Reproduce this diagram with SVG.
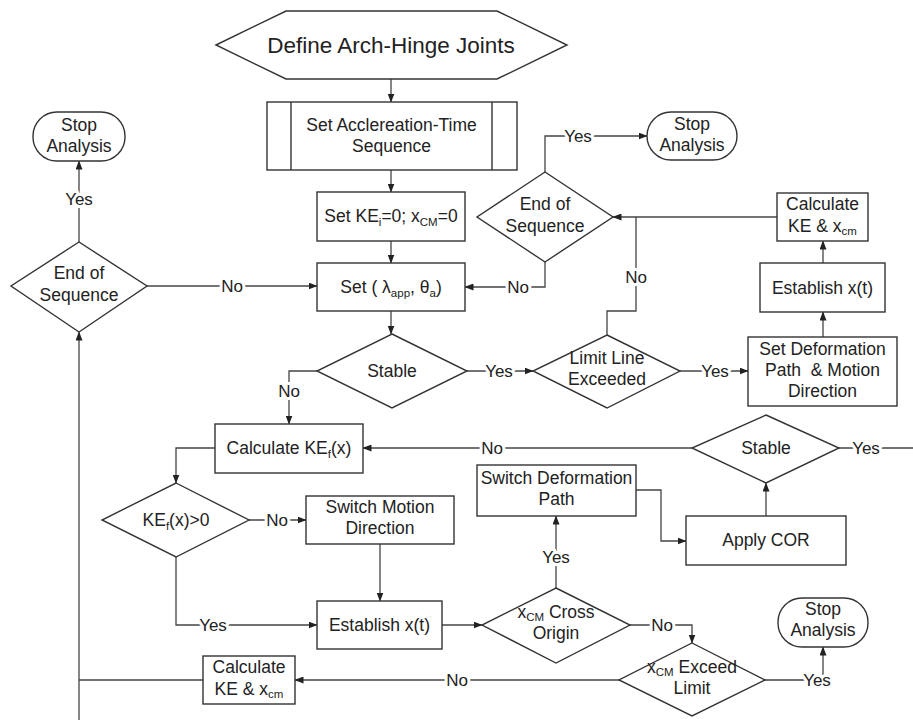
<svg xmlns="http://www.w3.org/2000/svg" width="913" height="720" viewBox="0 0 913 720">
<style>
.n{fill:#fff;stroke:#333;stroke-width:1.4}
.t{font-family:"Liberation Sans",Arial,sans-serif;font-size:17.5px;fill:#222;text-anchor:middle;white-space:pre}
.c{fill:none;stroke:#444;stroke-width:1.3}
.l{font-family:"Liberation Sans",Arial,sans-serif;font-size:17px;fill:#222;text-anchor:middle;stroke:#fff;stroke-width:6;paint-order:stroke;stroke-linejoin:round}
.s{font-size:11.5px}
</style>
<defs>
<marker id="a" markerWidth="9" markerHeight="7" refX="8.5" refY="3.5" orient="auto" markerUnits="userSpaceOnUse">
<path d="M0,0 L9,3.5 L0,7 z" fill="#222"/>
</marker>
</defs>
<rect width="913" height="720" fill="#fff"/>
<g id="connectors">
<path class="c" d="M391,79 V102" marker-end="url(#a)"/>
<path class="c" d="M391,170 V192" marker-end="url(#a)"/>
<path class="c" d="M391,241 V263" marker-end="url(#a)"/>
<path class="c" d="M391,311 V334" marker-end="url(#a)"/>
<path class="c" d="M467,371 H533" marker-end="url(#a)"/>
<path class="c" d="M680,371 H748" marker-end="url(#a)"/>
<path class="c" d="M823,337 V312" marker-end="url(#a)"/>
<path class="c" d="M823,263 V241" marker-end="url(#a)"/>
<path class="c" d="M777,217 H613" marker-end="url(#a)"/>
<path class="c" d="M607,335 V311 H636 V217"/>
<path class="c" d="M545,172 V136 H647" marker-end="url(#a)"/>
<path class="c" d="M545,262 V287 H465" marker-end="url(#a)"/>
<path class="c" d="M147,286 H317" marker-end="url(#a)"/>
<path class="c" d="M79,242 V161" marker-end="url(#a)"/>
<path class="c" d="M79,720 V332" marker-end="url(#a)"/>
<path class="c" d="M203,680 H79"/>
<path class="c" d="M619,680 H295" marker-end="url(#a)"/>
<path class="c" d="M765,680 H823 V647" marker-end="url(#a)"/>
<path class="c" d="M630,625 H692 V643" marker-end="url(#a)"/>
<path class="c" d="M556,588 V516" marker-end="url(#a)"/>
<path class="c" d="M636,490 H661 V541 H686" marker-end="url(#a)"/>
<path class="c" d="M766,516 V483" marker-end="url(#a)"/>
<path class="c" d="M839,448 H913"/>
<path class="c" d="M692,448 H363" marker-end="url(#a)"/>
<path class="c" d="M317,371 H289 V424" marker-end="url(#a)"/>
<path class="c" d="M215,448 H176 V483" marker-end="url(#a)"/>
<path class="c" d="M249,520 H306" marker-end="url(#a)"/>
<path class="c" d="M380,544 V601" marker-end="url(#a)"/>
<path class="c" d="M176,557 V625 H317" marker-end="url(#a)"/>
<path class="c" d="M442,625 H482" marker-end="url(#a)"/>
<text class="l" x="499" y="377">Yes</text>
<text class="l" x="715" y="377">Yes</text>
<text class="l" x="636" y="283">No</text>
<text class="l" x="578" y="142">Yes</text>
<text class="l" x="518" y="293">No</text>
<text class="l" x="232" y="292">No</text>
<text class="l" x="79" y="205">Yes</text>
<text class="l" x="457" y="686">No</text>
<text class="l" x="817" y="686">Yes</text>
<text class="l" x="662" y="631">No</text>
<text class="l" x="556" y="563">Yes</text>
<text class="l" x="866" y="454">Yes</text>
<text class="l" x="492" y="454">No</text>
<text class="l" x="289" y="397">No</text>
<text class="l" x="277" y="526">No</text>
<text class="l" x="213" y="631">Yes</text>
</g>
<g id="define">
<polygon class="n" points="216,45 286,11 497,11 567,45 497,79 286,79"/>
<text class="t" x="391" y="53" style="font-size:22.5px">Define Arch-Hinge Joints</text>
</g>
<g id="setAccel">
<rect class="n" x="267" y="102" width="250" height="68"/>
<line class="n" x1="291" y1="102" x2="291" y2="170"/>
<line class="n" x1="492" y1="102" x2="492" y2="170"/>
<text class="t" x="391.5" y="131">Set Acclereation-Time</text>
<text class="t" x="391.5" y="152">Sequence</text>
</g>
<g id="setKE">
<rect class="n" x="317" y="192" width="148" height="49"/>
<text class="t" x="391" y="222">Set KE<tspan class="s" dy="4">i</tspan><tspan dy="-4">=0; x</tspan><tspan class="s" dy="4">CM</tspan><tspan dy="-4">=0</tspan></text>
</g>
<g id="setLambda">
<rect class="n" x="317" y="263" width="148" height="48"/>
<text class="t" x="391" y="293">Set ( λ<tspan class="s" dy="4">app</tspan><tspan dy="-4">, θ</tspan><tspan class="s" dy="4">a</tspan><tspan dy="-4">)</tspan></text>
</g>
<g id="stable1">
<polygon class="n" points="392,334 467,371 392,408 317,371"/>
<text class="t" x="392" y="377">Stable</text>
</g>
<g id="limitLine">
<polygon class="n" points="607,335 680,371 607,408 533,371"/>
<text class="t" x="607" y="364">Limit Line</text>
<text class="t" x="607" y="385">Exceeded</text>
</g>
<g id="setDeformation">
<rect class="n" x="748" y="337" width="149" height="69"/>
<text class="t" x="822.5" y="355">Set Deformation</text>
<text class="t" x="822.5" y="376">Path  &amp; Motion</text>
<text class="t" x="822.5" y="397">Direction</text>
</g>
<g id="establish1">
<rect class="n" x="760" y="263" width="125" height="49"/>
<text class="t" x="822.5" y="294">Establish x(t)</text>
</g>
<g id="calcKE1">
<rect class="n" x="777" y="193" width="91" height="48"/>
<text class="t" x="822.5" y="210">Calculate</text>
<text class="t" x="822.5" y="232">KE &amp; x<tspan class="s" dy="3">cm</tspan></text>
</g>
<g id="endSeq1">
<polygon class="n" points="545,172 613,217 545,262 477,217"/>
<text class="t" x="545" y="210">End of</text>
<text class="t" x="545" y="232">Sequence</text>
</g>
<g id="stop1">
<rect class="n" x="647" y="112" width="90" height="48" rx="24"/>
<text class="t" x="692" y="130">Stop</text>
<text class="t" x="692" y="151">Analysis</text>
</g>
<g id="endSeq2">
<polygon class="n" points="79,242 147,286 79,332 11,286"/>
<text class="t" x="79" y="279">End of</text>
<text class="t" x="79" y="301">Sequence</text>
</g>
<g id="stop2">
<rect class="n" x="33" y="112" width="92" height="49" rx="24"/>
<text class="t" x="79" y="131">Stop</text>
<text class="t" x="79" y="152">Analysis</text>
</g>
<g id="calcKEf">
<rect class="n" x="215" y="424" width="148" height="49"/>
<text class="t" x="289" y="454">Calculate KE<tspan class="s" dy="4">f</tspan><tspan dy="-4">(x)</tspan></text>
</g>
<g id="kefPos">
<polygon class="n" points="176,483 249,520 176,557 102,520"/>
<text class="t" x="176" y="526">KE<tspan class="s" dy="4">f</tspan><tspan dy="-4">(x)&gt;0</tspan></text>
</g>
<g id="switchMotion">
<rect class="n" x="306" y="496" width="148" height="48"/>
<text class="t" x="380" y="513">Switch Motion</text>
<text class="t" x="380" y="534">Direction</text>
</g>
<g id="establish2">
<rect class="n" x="317" y="601" width="125" height="48"/>
<text class="t" x="379.5" y="631">Establish x(t)</text>
</g>
<g id="crossOrigin">
<polygon class="n" points="556,588 630,625 556,663 482,625"/>
<text class="t" x="556" y="618">x<tspan class="s" dy="3">CM</tspan><tspan dy="-3"> Cross</tspan></text>
<text class="t" x="556" y="639">Origin</text>
</g>
<g id="switchDeformation">
<rect class="n" x="477" y="465" width="159" height="51"/>
<text class="t" x="556.5" y="484">Switch Deformation</text>
<text class="t" x="556.5" y="505">Path</text>
</g>
<g id="applyCOR">
<rect class="n" x="686" y="516" width="160" height="49"/>
<text class="t" x="766" y="546">Apply COR</text>
</g>
<g id="stable2">
<polygon class="n" points="766,415 839,448 766,483 692,448"/>
<text class="t" x="766" y="454">Stable</text>
</g>
<g id="exceedLimit">
<polygon class="n" points="692,643 765,680 692,716 619,680"/>
<text class="t" x="692" y="673">x<tspan class="s" dy="3">CM</tspan><tspan dy="-3"> Exceed</tspan></text>
<text class="t" x="692" y="694">Limit</text>
</g>
<g id="stop3">
<rect class="n" x="778" y="598" width="90" height="49" rx="24"/>
<text class="t" x="823" y="615">Stop</text>
<text class="t" x="823" y="636">Analysis</text>
</g>
<g id="calcKE2">
<rect class="n" x="203" y="656" width="92" height="48"/>
<text class="t" x="249" y="673">Calculate</text>
<text class="t" x="249" y="695">KE &amp; x<tspan class="s" dy="3">cm</tspan></text>
</g>
</svg>
